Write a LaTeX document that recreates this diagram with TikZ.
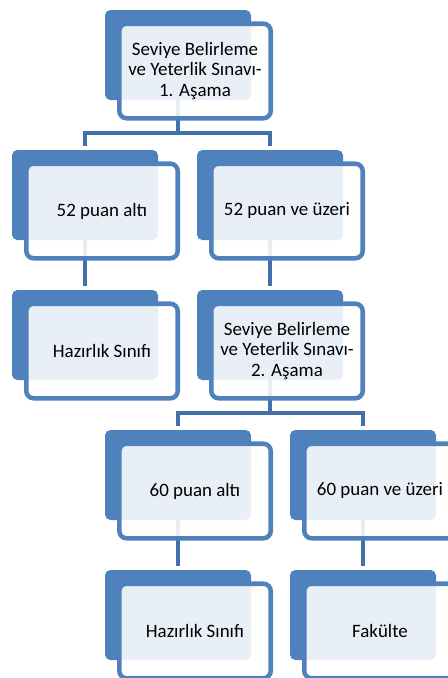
\documentclass[tikz,border=0pt]{standalone}
\usepackage{fontspec}
\setmainfont{Carlito}
\usetikzlibrary{calc,backgrounds}
\definecolor{mavi}{RGB}{79,129,189}
\definecolor{koyumavi}{RGB}{66,112,170}

\begin{document}
\begin{tikzpicture}[x=0.75pt,y=-0.75pt]
  \useasboundingbox (0,0) rectangle (448,678);

  %
  % Tanımlar
  %
  \tikzset{
    arka/.style={fill=mavi, rounded corners=4pt, inner sep=0pt,
      minimum width=109.5pt, minimum height=67.5pt},
    kutu/.style={draw=mavi, line width=3.4pt, fill=white, fill opacity=0.88,
      text opacity=1, rounded corners=5.5pt, inner sep=0pt, align=center,
      minimum width=113.6pt, minimum height=70.9pt,
      font=\fontsize{14.2}{15.4}\selectfont},
    bag/.style={draw=koyumavi, line width=3pt, shorten >=2.5pt},
    kutu/.pic={
      \node[arka] (-arka) {};
      \node[kutu] (-on) at (17,16) {#1};
    },
  }
  \pgfmathsetmacro{\xa}{85};%
  \pgfmathsetmacro{\xb}{178};%
  \pgfmathsetmacro{\xc}{270};%
  \pgfmathsetmacro{\xd}{363};%

  \pgfmathsetmacro{\ya}{55};%
  \pgfmathsetmacro{\yb}{195};%
  \pgfmathsetmacro{\yc}{335};%
  \pgfmathsetmacro{\yd}{475};%
  \pgfmathsetmacro{\ye}{615};%

  %
  % Kutular
  %
  % Sınav 1
  \pic (S1) at (\xb,\ya) {kutu={Seviye Belirleme\\ve Yeterlik Sınavı-\\1. Aşama}};

  % 52 puan
  \pic (A52) at (\xa,\yb) {kutu={52 puan altı}};
  \pic (U52) at (\xc,\yb) {kutu={52 puan ve üzeri}};

  % Hazırlık / Sınav 2
  \pic (H1) at (\xa,\yc) {kutu={Hazırlık Sınıfı}};
  \pic (S2) at (\xc,\yc) {kutu={Seviye Belirleme\\ve Yeterlik Sınavı-\\2. Aşama}};

  % 60 puan
  \pic (A60) at (\xb,\yd) {kutu={60 puan altı}};
  \pic (U60) at (\xd,\yd) {kutu={60 puan ve üzeri}};

  % Sonuç
  \pic (H2) at (\xb,\ye) {kutu={Hazırlık Sınıfı}};
  \pic (F) at (\xd,\ye) {kutu={Fakülte}};

  %
  % Bağlantılar
  %
  \begin{scope}[on background layer]
    \draw[bag, shorten >=0pt] (S1-arka.south) -- ++(0,33) coordinate (d1);
    \draw[bag] (d1) -| (A52-arka.north);
    \draw[bag] (d1) -| (U52-arka.north);

    \draw[bag] (A52-arka.south) -- (H1-arka.north);
    \draw[bag] (U52-arka.south) -- (S2-arka.north);

    \draw[bag, shorten >=0pt] (S2-arka.south) -- ++(0,33) coordinate (d2);
    \draw[bag] (d2) -| (A60-arka.north);
    \draw[bag] (d2) -| (U60-arka.north);

    \draw[bag] (A60-arka.south) -- (H2-arka.north);
    \draw[bag] (U60-arka.south) -- (F-arka.north);
  \end{scope}

\end{tikzpicture}
\end{document}
